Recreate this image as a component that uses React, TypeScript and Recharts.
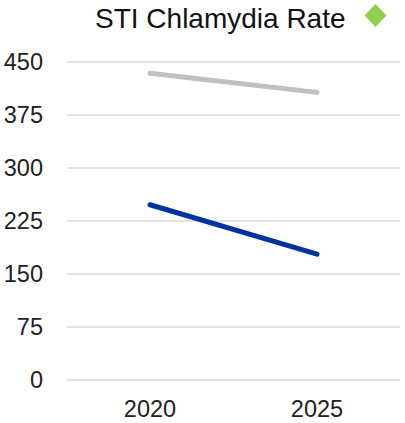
import React from "react";
import { LineChart, Line, XAxis, YAxis, CartesianGrid } from "recharts";

const years = ["2020", "2025"];
const grayValues = [434, 407];
const blueValues = [248, 178];
const yTicks = [0, 75, 150, 225, 300, 375, 450];

const data = years.map((y, i) => ({ year: y, gray: grayValues[i], blue: blueValues[i] }));

const FONT = "'Liberation Sans', Arial, sans-serif";

export default function App() {
  return (
    <div style={{ position: "absolute", left: 0, top: 0, width: 405, height: 423, background: "#fff" }}>
      <svg width={405} height={40} style={{ position: "absolute", left: 0, top: 0 }}>
        <text x={95} y={28} fontFamily={FONT} fontSize={28} fill="#111">
          STI Chlamydia Rate
        </text>
        <polygon points="375.5,4 386.5,15.5 375.5,27 364.5,15.5" fill="#8fd14f" />
      </svg>
      <LineChart
        width={405}
        height={423}
        data={data}
        margin={{ top: 62, right: 5, bottom: 0, left: 0 }}
      >
        <CartesianGrid vertical={false} stroke="#d9d9d9" strokeWidth={1.5} />
        <XAxis
          dataKey="year"
          axisLine={false}
          tickLine={false}
          height={43}
          padding={{ left: 83, right: 83 }}
          tickMargin={14}
          tick={{ fontFamily: FONT, fontSize: 23.5, fill: "#222" }}
        />
        <YAxis
          domain={[0, 450]}
          ticks={yTicks}
          axisLine={false}
          tickLine={false}
          width={67}
          tickMargin={18}
          interval={0}
          tick={{ fontFamily: FONT, fontSize: 23.5, fill: "#222" }}
        />
        <Line
          dataKey="gray"
          stroke="#c0c0c0"
          strokeWidth={5}
          strokeLinecap="round"
          dot={false}
          activeDot={false}
          isAnimationActive={false}
        />
        <Line
          dataKey="blue"
          stroke="#0033a0"
          strokeWidth={5}
          strokeLinecap="round"
          dot={false}
          activeDot={false}
          isAnimationActive={false}
        />
      </LineChart>
    </div>
  );
}
